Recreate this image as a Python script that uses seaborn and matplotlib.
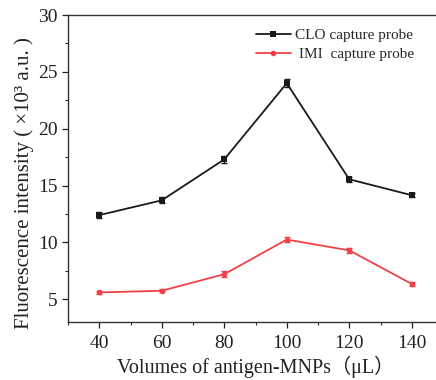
import matplotlib
matplotlib.use("Agg")
import matplotlib.pyplot as plt
import seaborn as sns
import pandas as pd
from matplotlib.ticker import MultipleLocator

volumes = [40, 60, 80, 100, 120, 140]
clo_values = [12.4, 13.7, 17.3, 24.0, 15.55, 14.15]
clo_err = [0.25, 0.25, 0.3, 0.35, 0.2, 0.2]
imi_values = [5.6, 5.75, 7.2, 10.25, 9.3, 6.35]
imi_err = [0.15, 0.15, 0.25, 0.25, 0.2, 0.15]
series_names = ["CLO capture probe", " IMI  capture probe"]

sns.set_style("ticks")
plt.rcParams['font.family'] = ['Liberation Serif', 'Noto Sans CJK SC', 'DejaVu Sans']

fig = plt.figure(figsize=(4.36, 3.80), dpi=100)
ax = fig.add_axes([68/436, 58/380, 375/436, 307/380])

df = pd.DataFrame({
    "x": volumes + volumes,
    "y": clo_values + imi_values,
    "s": [series_names[0]] * len(volumes) + [series_names[1]] * len(volumes),
})
colors = {series_names[0]: "#1a1a1a", series_names[1]: "#ef4146"}
sns.lineplot(data=df, x="x", y="y", hue="s", style="s", palette=colors,
             markers={series_names[0]: "s", series_names[1]: "o"}, dashes=False,
             markersize=4, linewidth=1.3, markeredgewidth=0, ax=ax)
ax.errorbar(volumes, clo_values, yerr=clo_err, fmt="none", ecolor="#1a1a1a",
            elinewidth=1, capsize=2.5, capthick=1)
ax.errorbar(volumes, imi_values, yerr=imi_err, fmt="none", ecolor="#ef4146",
            elinewidth=1, capsize=2.5, capthick=1)

ax.set_xlim(30, 150)
ax.set_ylim(3, 30)
ax.xaxis.set_major_locator(MultipleLocator(20))
ax.xaxis.set_minor_locator(MultipleLocator(10))
ax.yaxis.set_major_locator(MultipleLocator(5))
ax.yaxis.set_minor_locator(MultipleLocator(2.5))
ax.tick_params(which="major", direction="out", length=4, width=0.9, labelsize=14,
               colors="#222222")
ax.tick_params(axis="x", which="major", pad=5)
ax.tick_params(which="minor", direction="out", length=2.5, width=0.8)
for sp in ax.spines.values():
    sp.set_linewidth(1.0)
    sp.set_color("#333333")

ax.set_xlabel("Volumes of antigen-MNPs（μL）", fontsize=14.5, labelpad=3, color="#222222")
ax.set_ylabel("Fluorescence intensity ( ×10³ a.u. )", fontsize=15, color="#222222")
ax.yaxis.set_label_coords(-0.09, 0.453)

h, l = ax.get_legend_handles_labels()
ax.legend(h, l, loc="upper left", bbox_to_anchor=(248/436, 1 - 21/380),
          bbox_transform=fig.transFigure, frameon=False, fontsize=11,
          handlelength=2.3, handletextpad=0.3, labelspacing=0.35, borderpad=0)

fig.savefig("out.png", dpi=100)
